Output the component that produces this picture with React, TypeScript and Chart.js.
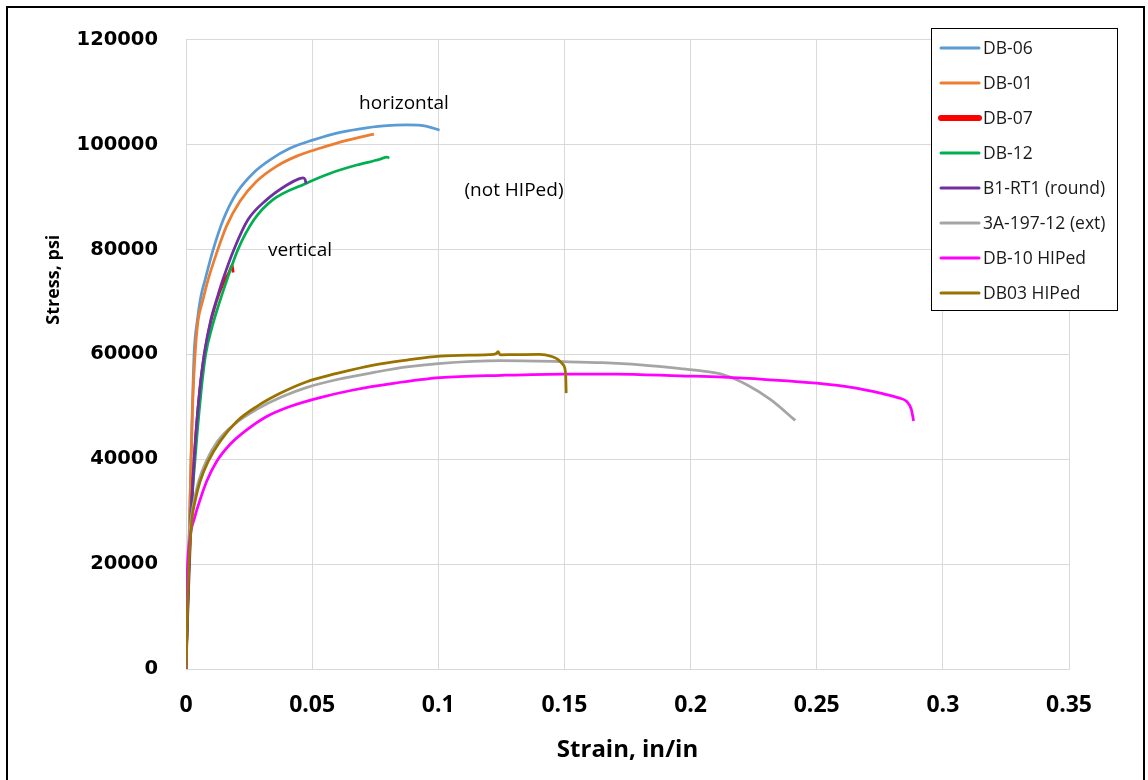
import React, { useEffect, useRef } from "react";
import { Chart, registerables } from "chart.js";

Chart.register(...registerables);

// ---- data (strain in/in, stress psi) ----
const seriesLabels = ["DB-06", "DB-01", "DB-07", "DB-12", "B1-RT1 (round)", "3A-197-12 (ext)", "DB-10 HIPed", "DB03 HIPed"];
const seriesColors = ["#5B9BD5", "#ED7D31", "#FF0000", "#00B050", "#7030A0", "#A5A5A5", "#FF00FF", "#997300"];
const legendLineWidths = [3, 3, 6, 3, 3, 3, 3, 3];

const db06Strain = [0, 0.001, 0.002, 0.0032, 0.0045, 0.0058, 0.0075, 0.0108, 0.0148, 0.0201, 0.0267, 0.0333, 0.0412, 0.0505, 0.0598, 0.069, 0.0783, 0.0875, 0.0955, 0.1005];
const db06Stress = [0, 20000, 40000, 60000, 66500, 70800, 74100, 80000, 85700, 90800, 94600, 97100, 99300, 100900, 102200, 103000, 103550, 103740, 103490, 102730];

const db01Strain = [0, 0.001, 0.002, 0.0026, 0.0036, 0.0048, 0.0065, 0.0088, 0.0122, 0.0161, 0.0214, 0.028, 0.036, 0.0439, 0.0531, 0.0637, 0.0745];
const db01Stress = [0, 20000, 40000, 50000, 60000, 66500, 70000, 74300, 79400, 84500, 89200, 93000, 95900, 97800, 99300, 100800, 102000];

const db07Strain = [0, 0.0005, 0.001, 0.002, 0.0035, 0.005, 0.0068, 0.009, 0.012, 0.015, 0.0172, 0.0183, 0.0187];
const db07Stress = [0, 10000, 18000, 30000, 42000, 51000, 58500, 64500, 70000, 73800, 75800, 77000, 75600];

const db12Strain = [0, 0.0015, 0.0036, 0.0058, 0.0078, 0.0105, 0.0132, 0.0163, 0.0206, 0.027, 0.0345, 0.0475, 0.057, 0.0677, 0.0769, 0.0796, 0.0806];
const db12Stress = [0, 25000, 40000, 52000, 60000, 65500, 69800, 74300, 80000, 85700, 89500, 92600, 94500, 96100, 97200, 97630, 97440];

const b1Strain = [0, 0.001, 0.002, 0.0035, 0.0055, 0.0072, 0.0098, 0.0125, 0.0148, 0.019, 0.0246, 0.032, 0.04, 0.045, 0.0465, 0.0472, 0.0476];
const b1Stress = [0, 15000, 28000, 42000, 53500, 60000, 66500, 71000, 74500, 80000, 85700, 89500, 92300, 93500, 93650, 93330, 92570];

const a3Strain = [0, 0.0005, 0.0012, 0.002, 0.0032, 0.005, 0.008, 0.0125, 0.0195, 0.028, 0.038, 0.048, 0.06, 0.075, 0.0875, 0.1, 0.125, 0.15, 0.165, 0.18, 0.196, 0.205, 0.213, 0.2223, 0.2316, 0.2415];
const a3Stress = [0, 15000, 24000, 28500, 32000, 35800, 39600, 43400, 46800, 49500, 51900, 53700, 55200, 56600, 57600, 58250, 58800, 58600, 58400, 58000, 57300, 56800, 56100, 54200, 51400, 47400];

const db10Strain = [0, 0.0002, 0.0005, 0.0013, 0.0035, 0.0056, 0.0082, 0.0122, 0.0174, 0.0241, 0.032, 0.0412, 0.0531, 0.0663, 0.0822, 0.1007, 0.125, 0.15, 0.17, 0.196, 0.213, 0.23, 0.25, 0.265, 0.2752, 0.2825, 0.2857, 0.2875, 0.2884];
const db10Stress = [0, 9000, 18000, 24000, 29000, 32300, 35800, 39600, 42800, 45600, 48150, 50050, 51750, 53200, 54460, 55540, 56000, 56250, 56250, 55900, 55650, 55200, 54500, 53600, 52600, 51700, 51000, 49500, 47300];

const db03Strain = [0, 0.0005, 0.001, 0.0023, 0.0036, 0.0056, 0.0088, 0.0135, 0.0201, 0.028, 0.0373, 0.0479, 0.0598, 0.0743, 0.0875, 0.1007, 0.12, 0.1228, 0.1237, 0.1245, 0.13, 0.14, 0.145, 0.1475, 0.1495, 0.1505, 0.1507];
const db03Stress = [0, 10000, 18000, 28250, 32000, 35800, 39600, 43400, 47200, 50050, 52570, 54790, 56360, 57950, 58900, 59660, 59950, 60100, 60500, 59900, 59950, 60000, 59600, 59000, 58000, 56100, 52600];

const strainSeries = [db06Strain, db01Strain, db07Strain, db12Strain, b1Strain, a3Strain, db10Strain, db03Strain];
const stressSeries = [db06Stress, db01Stress, db07Stress, db12Stress, b1Stress, a3Stress, db10Stress, db03Stress];

const xTicks = [0, 0.05, 0.1, 0.15, 0.2, 0.25, 0.3, 0.35];
const yTicks = [0, 20000, 40000, 60000, 80000, 100000, 120000];

const annotationTexts = ["horizontal", "(not HIPed)", "vertical"];
const annotationX = [0.0864, 0.130, 0.0452];
const annotationY = [107900, 91200, 79800];

const xTitle = "Strain, in/in";
const yTitle = "Stress, psi";

const overlayPlugin = {
  id: "overlay",
  afterDraw(chart: any) {
    const ctx = chart.ctx;
    const xs = chart.scales.x;
    const ys = chart.scales.y;
    ctx.save();
    // annotations
    ctx.fillStyle = "#000";
    ctx.font = "19px 'Open Sans'";
    ctx.textAlign = "center";
    ctx.textBaseline = "middle";
    annotationTexts.forEach((t, i) => {
      ctx.fillText(t, xs.getPixelForValue(annotationX[i]), ys.getPixelForValue(annotationY[i]));
    });
    // axis titles
    ctx.font = "bold 24px 'Open Sans'";
    ctx.fillText(xTitle, (chart.chartArea.left + chart.chartArea.right) / 2, 750);
    ctx.save();
    ctx.translate(54, chart.chartArea.top + 240);
    ctx.rotate(-Math.PI / 2);
    ctx.font = "bold 18px 'Open Sans'";
    ctx.fillText(yTitle, 0, 0);
    ctx.restore();
    // legend
    const lx = 931.5, ly = 28.5, lw = 186, lh = 282;
    ctx.fillStyle = "#fff";
    ctx.fillRect(lx, ly, lw, lh);
    ctx.strokeStyle = "#000";
    ctx.lineWidth = 1;
    ctx.strokeRect(lx, ly, lw, lh);
    ctx.font = "17.5px 'Open Sans'";
    ctx.textAlign = "left";
    seriesLabels.forEach((lab, i) => {
      const cy = 48 + 35 * i;
      ctx.strokeStyle = seriesColors[i];
      ctx.lineWidth = legendLineWidths[i];
      ctx.lineCap = "round";
      ctx.beginPath();
      ctx.moveTo(941, cy);
      ctx.lineTo(979, cy);
      ctx.stroke();
      ctx.fillStyle = "#1a1a1a";
      ctx.fillText(lab, 983, cy + 1);
    });
    ctx.restore();
  },
};

export default function App() {
  const ref = useRef<HTMLCanvasElement | null>(null);
  useEffect(() => {
    if (!ref.current) return;
    const n = seriesLabels.length;
    const datasets = seriesLabels.map((label, i) => ({
      label,
      data: strainSeries[i].map((x, k) => ({ x, y: stressSeries[i][k] })),
      borderColor: seriesColors[i],
      backgroundColor: seriesColors[i],
      borderWidth: 2.75,
      pointRadius: 0,
      fill: false,
      cubicInterpolationMode: "monotone" as const,
      order: n - 1 - i,
    }));
    const chart = new Chart(ref.current, {
      type: "line",
      data: { datasets },
      options: {
        animation: false,
        responsive: false,
        layout: { padding: { left: 0, top: 36, right: 79, bottom: 0 } },
        plugins: { legend: { display: false }, tooltip: { enabled: false } },
        scales: {
          x: {
            type: "linear",
            min: 0,
            max: 0.35,
            afterFit: (s: any) => { s.height = 111; },
            afterBuildTicks: (s: any) => { s.ticks = xTicks.map((v) => ({ value: v })); },
            grid: { color: "#D9D9D9", drawTicks: false, lineWidth: 1 },
            border: { color: "#D9D9D9" },
            ticks: {
              padding: 23,
              color: "#000",
              font: { family: "'Open Sans'", size: 23, weight: "bold" },
              callback: (v: any) => String(Number(Number(v).toFixed(2))),
            },
          },
          y: {
            type: "linear",
            min: 0,
            max: 120000,
            afterFit: (s: any) => { s.width = 186; },
            afterBuildTicks: (s: any) => { s.ticks = yTicks.map((v) => ({ value: v })); },
            grid: { color: "#D9D9D9", drawTicks: false, lineWidth: 1 },
            border: { color: "#D9D9D9" },
            ticks: {
              padding: 28,
              color: "#000",
              font: { family: "'DejaVu Sans'", size: 19.5, weight: "bold" },
              callback: (v: any) => String(v),
            },
          },
        },
      },
      plugins: [overlayPlugin],
    });
    return () => chart.destroy();
  }, []);
  return (
    <div style={{ position: "absolute", left: 0, top: 0, width: 1148, height: 780, background: "#fff", overflow: "hidden" }}>
      <canvas ref={ref} width={1148} height={780} style={{ position: "absolute", left: 0, top: 0 }} />
      <div style={{ position: "absolute", left: 6, top: 6, width: 1139, height: 800, borderLeft: "2.5px solid #000", borderTop: "2.5px solid #000", borderRight: "2.5px solid #000", boxSizing: "border-box", pointerEvents: "none" }} />
    </div>
  );
}
